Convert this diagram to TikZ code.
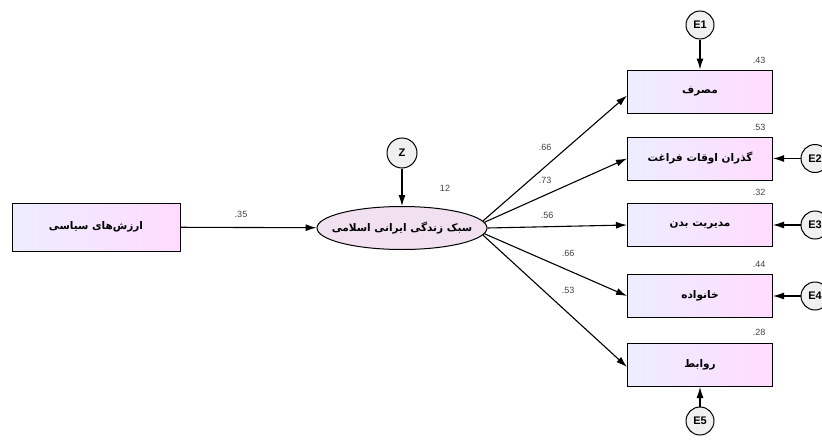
\documentclass[tikz,border=0pt]{standalone}
\usepackage{fontspec}
\setmainfont{Liberation Sans}
\newfontfamily\arabicfont[Script=Arabic]{DejaVu Sans}
\TeXXeTstate=1
\usetikzlibrary{shapes.geometric,arrows.meta}
\tikzset{
  obsbox/.style={draw, line width=1pt, minimum width=145pt, minimum height=43pt, left color=blue!7, right color=magenta!14, inner sep=0pt, fatext},
  latent/.style={draw, line width=1pt, ellipse, minimum width=170pt, minimum height=43pt, fill=violet!12, inner sep=0pt},
  errc/.style={draw, line width=1pt, circle, minimum size=28pt, fill=gray!12, inner sep=0pt, font=\bfseries\fontsize{11}{13}\selectfont},
  sempath/.style={line width=1.1pt, -{Latex[length=11pt,width=7pt]}},
  coef/.style={font=\fontsize{9}{11}\selectfont, text=black!75},
  fatext/.style={font=\arabicfont\bfseries\fontsize{10.5}{12}\selectfont}
}
\begin{document}
\begin{tikzpicture}[x=1pt,y=-1pt]
\clip (0,0) rectangle (822,447);
\useasboundingbox (0,0) rectangle (822,447);
\node[obsbox, minimum width=168pt, minimum height=48pt] (pol) at (96,227) {\beginR ارزش‌های سیاسی\endR};
\node[latent] (life) at (402,228) {};
\node[fatext, inner sep=0pt] (lifet) at (life.center) {\beginR سبک زندگی ایرانی اسلامی\endR};
\node[errc, minimum size=30pt] (z) at (402,153) {Z};
\node[obsbox] (b1) at (700,91.5) {\beginR مصرف\endR};
\node[obsbox] (b2) at (700,158.5) {\beginR گذران اوقات فراغت\endR};
\node[obsbox] (b3) at (700,225) {\beginR مدیریت بدن\endR};
\node[obsbox] (b4) at (700,296) {\beginR خانواده\endR};
\node[obsbox] (b5) at (700,365) {\beginR روابط\endR};
\node[errc] (e1) at (700,25) {E1};
\node[errc] (e2) at (815,158.5) {E2};
\node[errc] (e3) at (815,225) {E3};
\node[errc] (e4) at (815,296) {E4};
\node[errc] (e5) at (700,421) {E5};
\draw[sempath] (pol) -- (life);
\draw[sempath] (z) -- (life);
\draw[sempath] (life.5) -- ([yshift=-4pt]b1.west);
\draw[sempath] (life.4) -- (b2.west);
\draw[sempath] (life.east) -- (b3.west);
\draw[sempath] (life.-4) -- (b4.west);
\draw[sempath] (life.-5) -- ([yshift=-2pt]b5.west);
\draw[sempath] (e1) -- (b1);
\draw[sempath] (e2) -- (b2);
\draw[sempath] (e3) -- (b3);
\draw[sempath] (e4) -- (b4);
\draw[sempath] (e5) -- (b5);
\node[coef] (c0) at (241,214) {.35};
\node[coef] (cz) at (445,188) {12};
\node[coef] (c1) at (545,147) {.66};
\node[coef] (c2) at (545,180) {.73};
\node[coef] (c3) at (547,215) {.56};
\node[coef] (c4) at (568,253) {.66};
\node[coef] (c5) at (568,290) {.53};
\node[coef] (r1) at (759,60) {.43};
\node[coef] (r2) at (759,127) {.53};
\node[coef] (r3) at (759,192) {.32};
\node[coef] (r4) at (759,264) {.44};
\node[coef] (r5) at (759,332) {.28};
\end{tikzpicture}
\end{document}
